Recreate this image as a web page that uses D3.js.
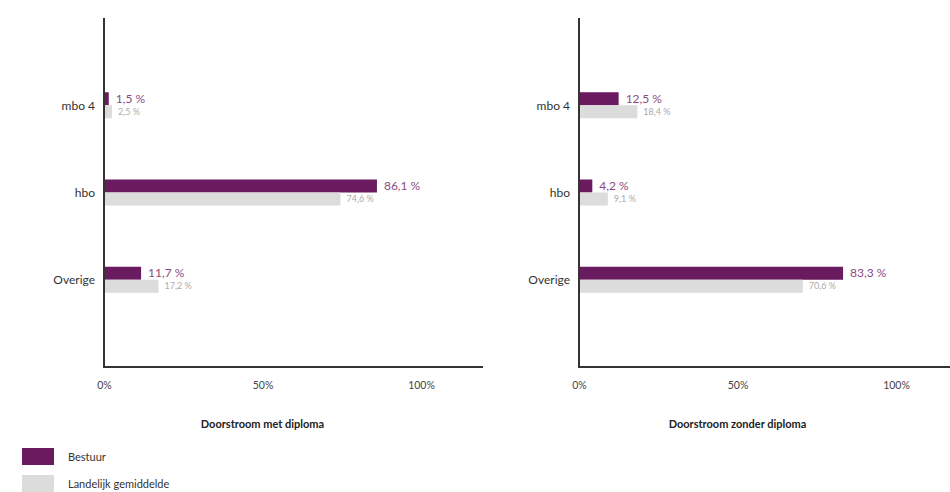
<!DOCTYPE html>
<html>
<head>
<meta charset="utf-8">
<script src="https://cdn.jsdelivr.net/npm/d3@7"></script>
<style>
  html, body { margin: 0; padding: 0; background: #ffffff; }
  svg { display: block; font-family: Lato, "Open Sans", sans-serif; }
</style>
</head>
<body>
<svg id="chart" width="950" height="492"></svg>
<script>
// Categories and series values (percentages)
const categories = ["mbo 4", "hbo", "Overige"];
const seriesNames = ["Bestuur", "Landelijk gemiddelde"];
const metDiplomaBestuur = [1.5, 86.1, 11.7];
const metDiplomaLandelijk = [2.5, 74.6, 17.2];
const zonderDiplomaBestuur = [12.5, 4.2, 83.3];
const zonderDiplomaLandelijk = [18.4, 9.1, 70.6];
const tickValues = [0, 50, 100];
const panelTitles = ["Doorstroom met diploma", "Doorstroom zonder diploma"];

const colors = ["#6a1a5e", "#dcdcdc"];
const labelColors = ["#8c4a82", "#ababab"];

const svg = d3.select("#chart");
const fmt = v => v.toFixed(1).replace(".", ",") + " %";

const panels = [
  { x0: 104, axisEnd: 483, bestuur: metDiplomaBestuur, landelijk: metDiplomaLandelijk, title: panelTitles[0] },
  { x0: 579, axisEnd: 950, bestuur: zonderDiplomaBestuur, landelijk: zonderDiplomaLandelijk, title: panelTitles[1] }
];

const plotTop = 18, plotBottom = 367, barH = 13;

panels.forEach(p => {
  const x = d3.scaleLinear().domain([0, 100]).range([p.x0, p.x0 + 317]);
  const y = d3.scalePoint().domain(categories).range([plotTop, plotBottom]).padding(1);
  const g = svg.append("g");

  // bars: Bestuur above, Landelijk below the category centre
  const rows = categories.map((c, i) => ({ c, b: p.bestuur[i], l: p.landelijk[i] }));

  g.selectAll("rect.b").data(rows).join("rect").attr("class", "b")
    .attr("x", x(0)).attr("y", d => y(d.c) - barH)
    .attr("width", d => x(d.b) - x(0)).attr("height", barH)
    .attr("fill", colors[0]);
  g.selectAll("rect.l").data(rows).join("rect").attr("class", "l")
    .attr("x", x(0)).attr("y", d => y(d.c))
    .attr("width", d => x(d.l) - x(0)).attr("height", barH)
    .attr("fill", colors[1]);

  g.selectAll("text.vb").data(rows).join("text").attr("class", "vb")
    .attr("x", d => x(d.b) + 7).attr("y", d => y(d.c) - barH / 2)
    .attr("dy", "0.35em").attr("font-size", 12).attr("fill", labelColors[0])
    .text(d => fmt(d.b));
  g.selectAll("text.vl").data(rows).join("text").attr("class", "vl")
    .attr("x", d => x(d.l) + 6).attr("y", d => y(d.c) + barH / 2)
    .attr("dy", "0.35em").attr("font-size", 9).attr("fill", labelColors[1])
    .text(d => fmt(d.l));

  // category axis
  const yAxis = g.append("g").attr("transform", `translate(${x(0)},0)`)
    .call(d3.axisLeft(y).tickSize(0).tickPadding(9));
  yAxis.select(".domain").remove();
  yAxis.selectAll("text").attr("font-size", 12).attr("fill", "#333")
    .attr("font-family", "Lato, 'Open Sans', sans-serif");

  // value axis ticks
  const xAxis = g.append("g").attr("transform", `translate(0,${plotBottom})`)
    .call(d3.axisBottom(x).tickValues(tickValues).tickSize(0).tickPadding(15)
      .tickFormat(d => d + "%"));
  xAxis.select(".domain").remove();
  xAxis.selectAll("text").attr("font-size", 10.5).attr("fill", "#444")
    .attr("font-family", "Lato, 'Open Sans', sans-serif");

  // axis lines
  g.append("path")
    .attr("d", `M${x(0)},${plotTop}V${plotBottom}H${p.axisEnd}`)
    .attr("fill", "none").attr("stroke", "#333").attr("stroke-width", 2);

  g.append("text")
    .attr("x", x(50)).attr("y", 424).attr("dy", "0.35em")
    .attr("text-anchor", "middle").attr("font-size", 11).attr("font-weight", "bold")
    .attr("fill", "#222").text(p.title);
});

// legend
const legend = svg.append("g").attr("transform", "translate(22,448)");
seriesNames.forEach((name, i) => {
  const row = legend.append("g").attr("transform", `translate(0,${i * 27})`);
  row.append("rect").attr("width", 32).attr("height", 17).attr("fill", colors[i]);
  row.append("text").attr("x", 46).attr("y", 9).attr("dy", "0.35em")
    .attr("font-size", 11).attr("fill", "#333").text(name);
});
</script>
</body>
</html>
